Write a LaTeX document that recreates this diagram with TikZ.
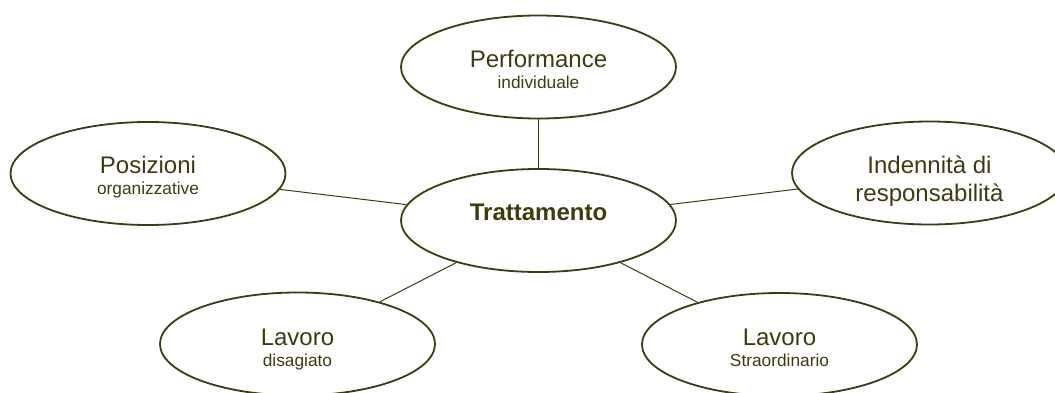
\documentclass[tikz,border=0pt]{standalone}
\usepackage{fontspec}
\setmainfont{Liberation Sans}
\usetikzlibrary{positioning,shapes.geometric}
\definecolor{olivedark}{RGB}{62,59,12}
\tikzset{
  voce/.style={ellipse, draw=olivedark, line width=0.9pt,
    minimum width=137.5pt, minimum height=51.5pt, inner sep=0pt},
  testo/.style={anchor=base, text=olivedark, inner sep=0pt,
    align=center, font=\fontsize{12}{10.7}\selectfont},
  legame/.style={draw=olivedark, line width=0.5pt}
}
\newcommand{\piccolo}[1]{{\fontsize{8.65}{10.7}\selectfont #1}}

\begin{document}
\begin{tikzpicture}[on grid]
    \useasboundingbox (-269.25pt,-85.75pt) rectangle (258.25pt,110.25pt);
    \node[voce] (tratt) {};
    \node[voce, above=76.75pt of tratt] (perf) {};
    \node[voce, above left=23.5pt and 195.25pt of tratt] (pos) {};
    \node[voce, above right=23.75pt and 195.5pt of tratt] (ind) {};
    \node[voce, below left=61.75pt and 120.5pt of tratt] (disag) {};
    \node[voce, below right=62pt and 120.5pt of tratt] (straord) {};

    \node[testo] (tratt-t) at (tratt) {\textbf{Trattamento}};
    \node[testo] (perf-t) at ([yshift=-10.7pt]perf) {Performance\\\piccolo{individuale}};
    \node[testo] (pos-t) at ([yshift=-10.5pt]pos) {Posizioni\\\piccolo{organizzative}};
    \node[testo] (ind-t) at ([yshift=-14.2pt]ind) {Indennità di\\[3.5pt]responsabilità};
    \node[testo] (disag-t) at ([yshift=-11.2pt]disag) {Lavoro\\\piccolo{disagiato}};
    \node[testo] (straord-t) at ([yshift=-11.2pt]straord) {Lavoro\\\piccolo{Straordinario}};

    \draw[legame] (tratt) -- (perf);
    \draw[legame] (tratt) -- (pos);
    \draw[legame] (tratt) -- (ind);
    \draw[legame] (tratt) -- (disag);
    \draw[legame] (tratt) -- (straord);
\end{tikzpicture}
\end{document}
